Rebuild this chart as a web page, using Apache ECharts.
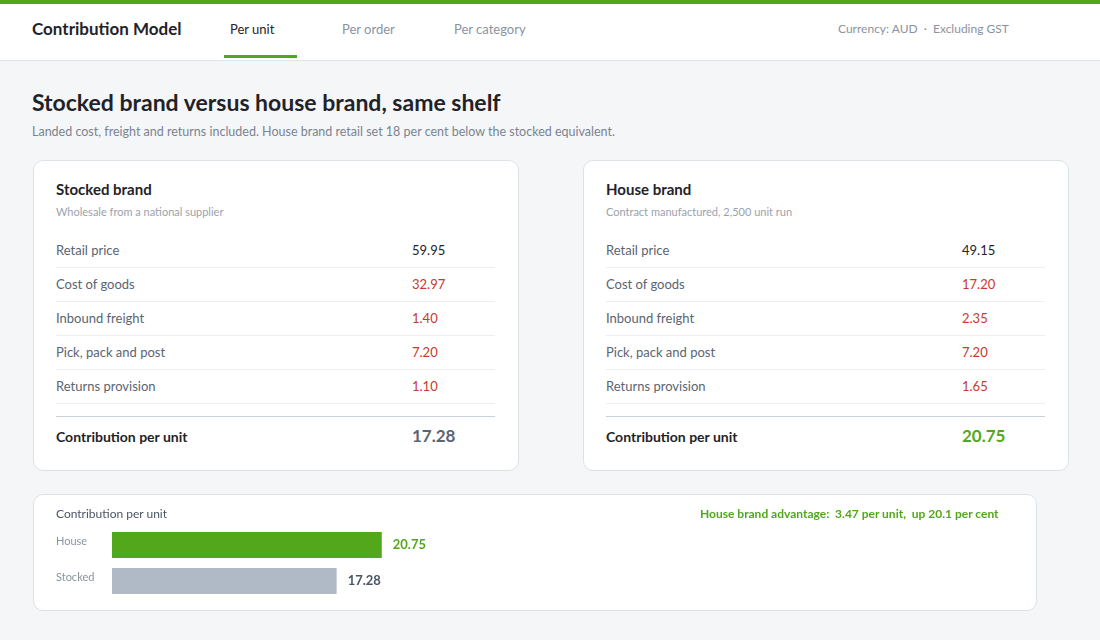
<!DOCTYPE html>
<html>
<head>
<meta charset="utf-8">
<script src="https://cdn.jsdelivr.net/npm/echarts@6/dist/echarts.min.js"></script>
<style>
  * { box-sizing: border-box; margin: 0; padding: 0; }
  body { width: 1100px; height: 640px; background: #f5f6f8; font-family: Lato, "Noto Sans", sans-serif; position: relative; overflow: hidden; }
  .topline { position: absolute; left: 0; top: 0; width: 1100px; height: 4px; background: #52a81a; }
  .header { position: absolute; left: 0; top: 4px; width: 1100px; height: 57px; background: #fff; border-bottom: 1px solid #e1e5ea; }
  .brand { position: absolute; left: 32px; top: 14px; font-size: 17px; font-weight: bold; color: #1f2329; }
  .tab { position: absolute; top: 17px; font-size: 13px; color: #8a93a0; }
  .tab.on { color: #1f2329; }
  .tabline { position: absolute; left: 224px; top: 51px; width: 73px; height: 3px; background: #52a81a; }
  .meta { position: absolute; left: 838px; top: 17px; font-size: 12px; color: #8a93a0; }
  h1 { position: absolute; left: 32px; top: 88px; font-size: 23px; font-weight: bold; color: #1f2329; }
  .lead { position: absolute; left: 32px; top: 124px; font-size: 12.5px; color: #7b8490; }
  .card { position: absolute; background: #fff; border: 1px solid #dde2e8; border-radius: 10px; }
  .card h2 { position: absolute; left: 22px; top: 19px; font-size: 15px; font-weight: bold; color: #1f2329; }
  .card .sub { position: absolute; left: 22px; top: 44px; font-size: 11px; color: #9aa2ad; }
  .rows { position: absolute; left: 22px; top: 73px; width: 439px; }
  .row { height: 34px; border-bottom: 1px solid #eceff2; position: relative; font-size: 13px; }
  .row .k { position: absolute; left: 0; top: 8px; color: #5b6472; }
  .row .v { position: absolute; left: 356px; top: 8px; color: #c8392b; }
  .row .v.pos { color: #1f2329; }
  .total { position: absolute; left: 22px; top: 255px; width: 439px; border-top: 1px solid #c9d0d8; height: 40px; }
  .total .k { position: absolute; left: 0; top: 11px; font-size: 14px; font-weight: bold; color: #1f2329; }
  .total .v { position: absolute; left: 356px; top: 8px; font-size: 17px; font-weight: bold; color: #5b6472; }
  .total .v.win { color: #52a81a; }
  .chartcard { left: 33px; top: 494px; width: 1004px; height: 117px; }
  .chartcard .ttl { position: absolute; left: 22px; top: 11px; font-size: 12px; color: #4b5563; z-index: 2; }
  .chartcard .adv { position: absolute; left: 666px; top: 11px; font-size: 12px; font-weight: bold; color: #52a81a; z-index: 2; }
  #bars { position: absolute; left: 0; top: 0; width: 1002px; height: 115px; }
</style>
</head>
<body>
<div class="topline"></div>
<div class="header">
  <div class="brand">Contribution Model</div>
  <div class="tab on" style="left:230px">Per unit</div>
  <div class="tab" style="left:342px">Per order</div>
  <div class="tab" style="left:454px">Per category</div>
  <div class="tabline"></div>
  <div class="meta">Currency: AUD &nbsp;·&nbsp; Excluding GST</div>
</div>
<h1>Stocked brand versus house brand, same shelf</h1>
<div class="lead">Landed cost, freight and returns included. House brand retail set 18 per cent below the stocked equivalent.</div>

<div class="card" id="card0" style="left:33px; top:160px; width:486px; height:311px;"></div>
<div class="card" id="card1" style="left:583px; top:160px; width:486px; height:311px;"></div>

<div class="card chartcard">
  <div class="ttl">Contribution per unit</div>
  <div class="adv" id="adv"></div>
  <div id="bars"></div>
</div>

<script>
// line items per unit, AUD
var lineItems = ['Retail price', 'Cost of goods', 'Inbound freight', 'Pick, pack and post', 'Returns provision'];
var stockedValues = [59.95, 32.97, 1.40, 7.20, 1.10];
var houseValues = [49.15, 17.20, 2.35, 7.20, 1.65];

var brandNames = ['Stocked brand', 'House brand'];
var brandNotes = ['Wholesale from a national supplier', 'Contract manufactured, 2,500 unit run'];

// bar chart
var barCategories = ['House', 'Stocked'];
var barValues = [20.75, 17.28];

var advantageText = 'House brand advantage:&nbsp; 3.47 per unit,&nbsp; up 20.1 per cent';

function fillCard(id, name, note, vals, total, win) {
  var html = '<h2>' + name + '</h2><div class="sub">' + note + '</div><div class="rows">';
  for (var i = 0; i < lineItems.length; i++) {
    html += '<div class="row"><span class="k">' + lineItems[i] + '</span><span class="v' + (i == 0 ? ' pos' : '') + '">' + vals[i].toFixed(2) + '</span></div>';
  }
  html += '</div><div class="total"><span class="k">Contribution per unit</span><span class="v' + (win ? ' win' : '') + '">' + total.toFixed(2) + '</span></div>';
  document.getElementById(id).innerHTML = html;
}
fillCard('card0', brandNames[0], brandNotes[0], stockedValues, barValues[1], false);
fillCard('card1', brandNames[1], brandNotes[1], houseValues, barValues[0], true);
document.getElementById('adv').innerHTML = advantageText;

var barColors = ['#52a81a', '#b0b9c6'];
var labelColors = ['#52a81a', '#4b5563'];

var myChart = echarts.init(document.getElementById('bars'));
var option = {
  animation: false,
  grid: {
    left: 78,
    top: 32,
    width: 390,
    height: 72
  },
  xAxis: {
    type: 'value',
    min: 0,
    max: 30,
    show: false
  },
  yAxis: {
    type: 'category',
    inverse: true,
    data: barCategories,
    axisLine: { show: false },
    axisTick: { show: false },
    axisLabel: {
      align: 'left',
      margin: 56,
      color: '#8a93a0',
      fontSize: 11,
      fontFamily: 'Lato',
      verticalAlign: 'bottom',
      lineHeight: 8
    }
  },
  series: [
    {
      type: 'bar',
      barWidth: 26,
      data: barValues.map(function (v, i) {
        return {
          value: v,
          itemStyle: { color: barColors[i] },
          label: { color: labelColors[i] }
        };
      }),
      label: {
        show: true,
        position: 'right',
        distance: 11,
        fontSize: 13,
        fontWeight: 'bold',
        fontFamily: 'Lato',
        formatter: function (p) {
          return p.value.toFixed(2);
        }
      }
    }
  ]
};
myChart.setOption(option);
</script>
</body>
</html>
